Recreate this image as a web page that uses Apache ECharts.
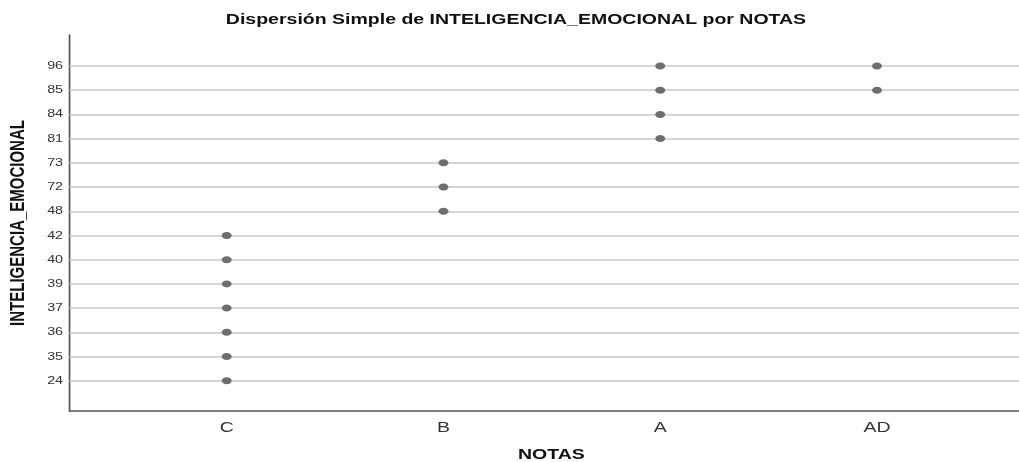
<!DOCTYPE html>
<html>
<head>
<meta charset="utf-8">
<script src="https://cdn.jsdelivr.net/npm/echarts@6/dist/echarts.min.js"></script>
<style>
html,body{margin:0;padding:0;background:#fff;}
#c{width:1019px;height:462px;transform-origin:0 0;}
</style>
</head>
<body>
<div id="c"></div>
<script>
// Category labels
const notas = ['C', 'B', 'A', 'AD'];
const yLabels = ['24', '35', '36', '37', '39', '40', '42', '48', '72', '73', '81', '84', '85', '96'];
// Observed INTELIGENCIA_EMOCIONAL values for each NOTAS group
const pointsC = ['24', '35', '36', '37', '39', '40', '42'];
const pointsB = ['48', '72', '73'];
const pointsA = ['81', '84', '85', '96'];
const pointsAD = ['85', '96'];

const groups = [pointsC, pointsB, pointsA, pointsAD];
const data = [];
groups.forEach((g, i) => g.forEach(v => data.push([i, yLabels.indexOf(v)])));

const S = 1.29974;          // horizontal stretch of the original picture
const dom = document.getElementById('c');
const chart = echarts.init(dom, null, {renderer: 'canvas', width: 1019, height: 462});
const font = 'Liberation Sans, Arial, sans-serif';
chart.setOption({
  animation: false,
  backgroundColor: '#ffffff',
  title: {
    text: 'Dispersión Simple de INTELIGENCIA_EMOCIONAL por NOTAS',
    left: 392, top: 7, textAlign: 'center',
    textStyle: {fontFamily: font, fontSize: 15, fontWeight: 'bold', color: '#111'}
  },
  grid: {left: 53.5, right: 1019 - 784, top: 35, bottom: 51, containLabel: false, outerBoundsMode: 'none'},
  xAxis: {
    type: 'value', min: -0.725, max: 3.655,
    name: 'NOTAS', nameLocation: 'middle', nameGap: 36,
    nameTextStyle: {fontFamily: font, fontSize: 15, fontWeight: 'bold', color: '#111', padding: [0, 0, 0, 11]},
    axisLine: {show: true, onZero: false, lineStyle: {color: '#555', width: 1.5}},
    axisTick: {show: false},
    splitLine: {show: false},
    axisLabel: {
      customValues: [0, 1, 2, 3], margin: 9,
      formatter: v => notas[Math.round(v)] ?? '',
      fontFamily: font, fontSize: 15, color: '#333'
    }
  },
  yAxis: {
    type: 'value', min: -1.25, max: 14.28,
    name: 'INTELIGENCIA_EMOCIONAL', nameLocation: 'middle', nameGap: 32, nameRotate: 90,
    nameTextStyle: {fontFamily: font, fontSize: 15, fontWeight: 'bold', color: '#111'},
    axisLine: {show: true, onZero: false, lineStyle: {color: '#555', width: 1.3}},
    axisTick: {show: false},
    splitLine: {show: false},
    axisLabel: {
      customValues: yLabels.map((_, i) => i), margin: 5,
      formatter: v => yLabels[Math.round(v)] ?? '',
      fontFamily: font, fontSize: 11, color: '#333'
    }
  },
  series: [{
    type: 'scatter',
    data: [],
    z: 1,
    markLine: {
      silent: true, symbol: 'none', animation: false,
      label: {show: false},
      lineStyle: {color: '#c8c8c8', width: 1.5, type: 'solid'},
      data: yLabels.map((_, i) => ({yAxis: i}))
    }
  }, {
    type: 'scatter',
    data: data,
    symbol: 'circle',
    symbolSize: [7.7, 7],
    itemStyle: {color: '#6e6e6e', opacity: 1},
    z: 5
  }]
});

// Stretch the rendered scene horizontally inside the library's own renderer
let ok = false;
try {
  const zr = chart.getZr();
  const roots = zr.storage.getRoots();
  roots.forEach(r => {
    const x = r.x || 0;
    r.scaleX = S;
    r.originX = -x;
    if (r.markRedraw) r.markRedraw();
    if (r.traverse) r.traverse(c => c.markRedraw && c.markRedraw());
  });
  zr.refreshImmediately();
  ok = roots.length > 0;
} catch (e) { ok = false; }
if (!ok) {
  // fallback: stretch with CSS
  dom.style.width = '784px';
  dom.style.transform = 'scaleX(' + S + ')';
  chart.resize({width: 784, height: 462});
  chart.setOption({grid: {right: 0}});
}
</script>
</body>
</html>
